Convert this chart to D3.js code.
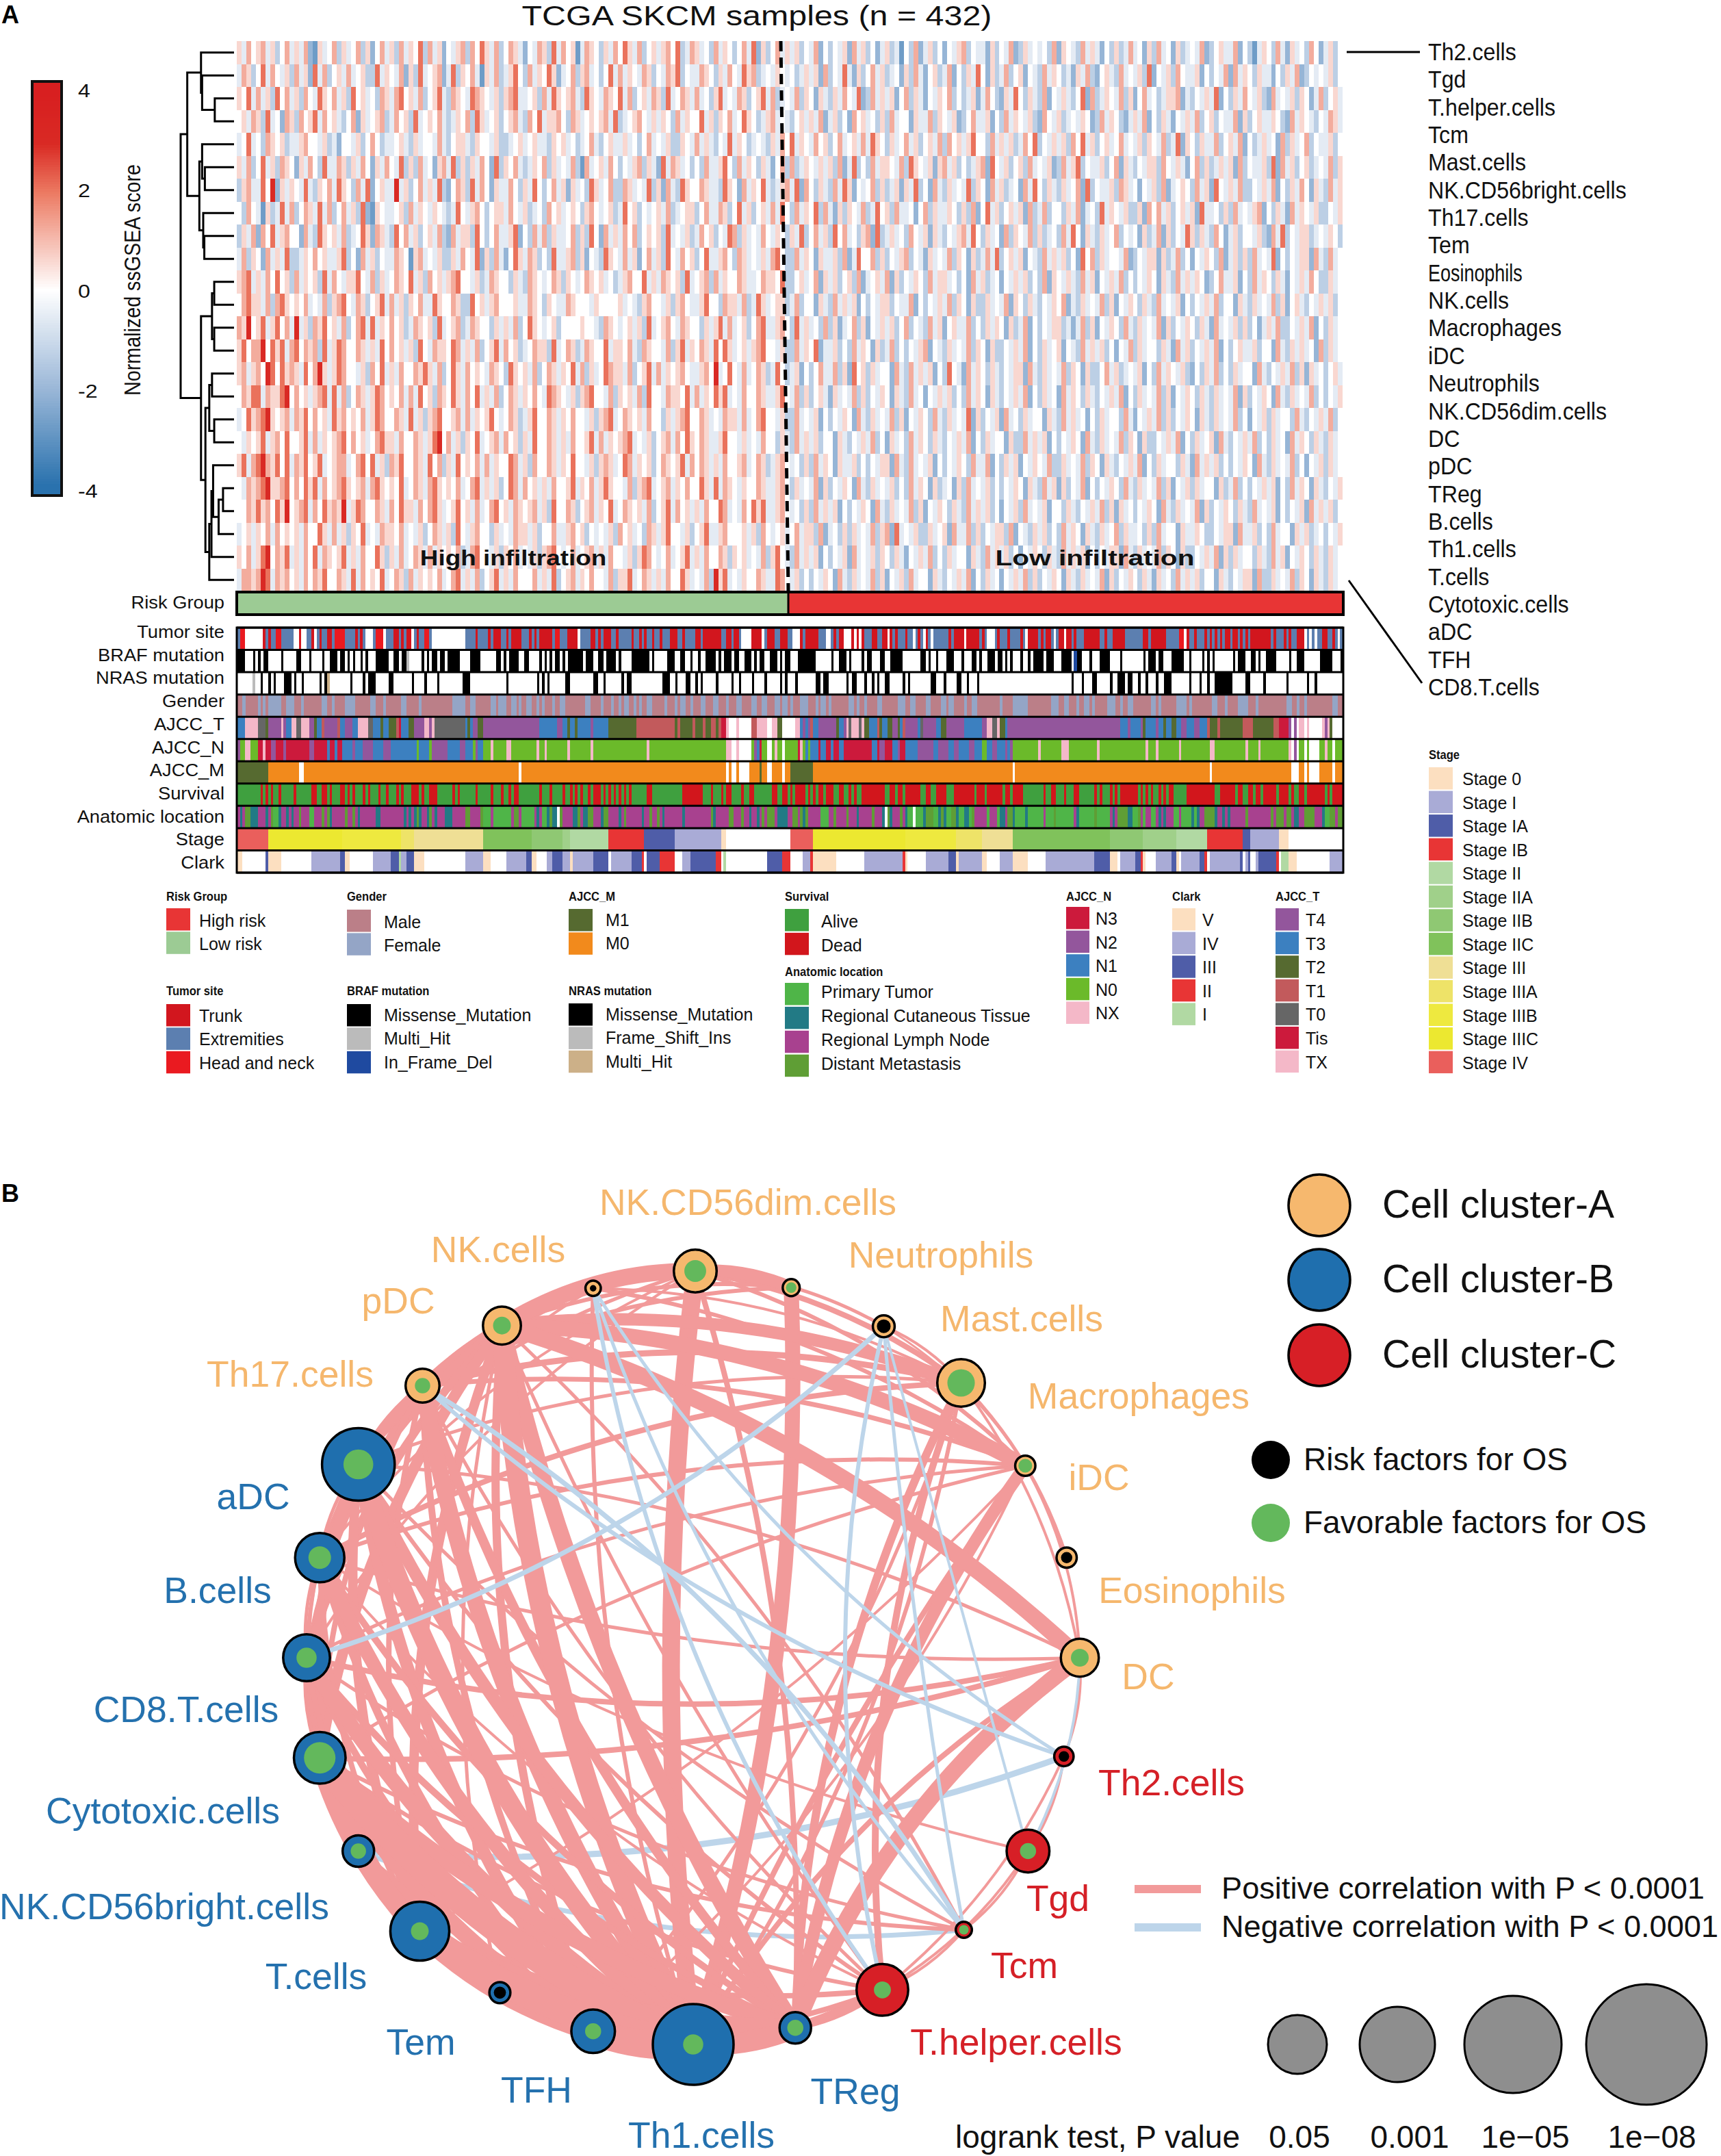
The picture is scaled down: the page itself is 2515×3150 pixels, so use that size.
<!DOCTYPE html>
<html><head><meta charset="utf-8">
<script src="https://cdn.jsdelivr.net/npm/d3@7/dist/d3.min.js"></script>
<style>html,body{margin:0;padding:0;background:#fff}svg{display:block}text{font-family:"Liberation Sans",Arial,sans-serif}</style>
</head><body><svg id="c" width="2515" height="3150" viewBox="0 0 2515 3150"></svg>
<script>
// ---------- DATA ----------
const cellRows=["Th2.cells","Tgd","T.helper.cells","Tcm","Mast.cells","NK.CD56bright.cells","Th17.cells","Tem","Eosinophils","NK.cells","Macrophages","iDC","Neutrophils","NK.CD56dim.cells","DC","pDC","TReg","B.cells","Th1.cells","T.cells","Cytotoxic.cells","aDC","TFH","CD8.T.cells"];
// heat levels 0..9, 5 = score 0; one character spans about two samples
const heatRows=[
"6475 6746 3574 6472 1645 7364 5736 2574 6374 6583 7462 5467 3758 6473 5764 2547 6384 7561 4765 3647 5864 7356 4675 8347 6453 7465 3574 8263 5746"+"4635 4725 3546 2746 3524 6341 5372 4635 2546 7354 4263 5472 3645 4537 2654 3746 4253 6347 4526 3745 2634 5472 3564 4725 3146 5374 2645 3752 4635",
"4763 5847 5463 7462 8473 5647 4563 3846 5472 6384 5672 4836 5741 6473 4685 3746 5862 4573 6745 3584 7465 4763 5476 8354 4765 3647 5486 7345 4654"+"5346 4627 3548 4263 5746 3452 6374 2563 4725 3648 5263 4735 6254 3746 5342 6473 2564 3745 4638 2546 3754 4625 3547 2746 5364 4253 6472 3545 4635",
"6584 7463 8574 6375 4865 7463 8564 5376 4785 6473 5684 3765 4876 5463 6784 4563 7486 5674 3865 4765 8473 5647 6384 5764 7453 6845 4763 5684 7345"+"4736 5264 3647 5482 3746 4625 7364 2546 5735 3462 4753 2648 5364 3725 4643 5827 3465 4736 2574 5346 6724 3546 4825 3647 5463 2745 4636 5247 3564",
"5647 6384 5276 3756 8475 6435 7264 5673 4756 3845 6574 3465 7386 4563 5674 3758 4667 5376 4565 6748 3456 7546 4653 7465 5846 3657 4586 5346 7454"+"3564 6472 4635 2756 4536 3745 5264 4736 5462 3574 4625 3746 5463 2754 6345 4652 3746 5324 6472 5364 2546 4735 6354 4726 3564 4653 2746 5435 4764",
"4584 5376 5634 4675 5463 4255 4635 7534 4564 3645 5474 3566 4365 5463 3456 4564 4365 6453 4574 3564 4645 3574 5463 3654 7464 3548 4653 4543 6475"+"8465 4756 3574 5647 4865 3645 7463 5647 3756 4685 5374 6463 4758 3546 4637 5846 3564 5745 4636 5473 4826 5364 4735 6472 5346 4527 3645 7354 4635",
"6473 5846 3765 2647 5384 4763 6475 2647 5483 6374 5267 4836 3647 5283 6574 3465 7364 5473 1745 6475 3546 7364 2847 6453 5374 4685 3746 5364 2573"+"7346 5464 6372 4835 3746 6547 3865 4626 7463 5346 7285 4635 6374 5462 3746 8354 4635 7264 3546 6375 4642 5736 3464 6273 5446 3827 4635 6345 4736",
"3674 4859 2646 5484 3657 4865 3748 2564 4946 3574 6483 2576 3847 5264 4753 6485 3574 6264 5386 4573 3764 5483 6274 3865 5764 4386 5274 6584 3467"+"4827 5364 3748 6254 5736 3462 6483 5274 3645 4836 5274 6345 2748 5364 3645 7283 5446 3764 5254 6372 4565 3746 2854 6473 3546 4725 3647 5264 3746",
"5375 4163 4847 3576 4847 3574 6382 1654 4563 7465 4654 3485 4675 3566 4754 6345 3756 4565 3675 4563 4856 3545 6473 4566 3574 4763 5846 3564 7485"+"3746 5837 4263 6547 3485 6374 4525 7364 4653 6372 5846 3564 6273 4735 5364 7245 3846 5463 3627 5746 3564 6284 4536 3745 4672 5364 2746 5463 3546",
"3647 2758 4675 5274 3865 6473 4586 2764 3857 4635 6473 2746 6385 3574 4682 5374 7364 4573 6385 2746 4757 3565 6384 5463 4756 3548 7364 5475 4653"+"6483 5746 3857 4536 7283 4645 3754 6264 3546 7485 3645 2736 5473 6345 3748 5264 3645 7354 5263 4726 3548 6364 3752 4635 5463 2748 3546 6345 4653",
"4736 5274 6483 3465 7564 4683 5274 6354 4765 1674 5463 3647 5482 6374 2586 4763 5384 4673 6254 3865 4746 2574 6385 4756 3584 4675 3764 5464 7853"+"3746 5264 4637 2485 5736 3546 7354 2645 4736 5263 4748 3564 6254 3746 4635 2857 3645 5472 3546 6263 4735 2546 5372 4636 3745 4825 3546 6274 3745",
"6784 6475 8563 7465 6384 7546 6854 7364 5765 8463 7564 6785 5463 4765 5364 3765 4576 3654 5765 6453 4675 5846 4765 6384 5673 7465 5764 4576 6583"+"3564 5726 4635 6372 4564 7263 5465 3746 6453 5274 6345 2546 4635 3726 5464 3746 2546 4735 3546 5264 3746 4652 3574 4625 3746 5364 2546 4753 3645",
"5786 6473 7865 6574 5473 6785 4763 5684 7463 6574 4865 5763 3856 4675 5564 4765 3654 4765 5546 5555 6454 3675 5463 6754 4685 5376 6473 4864 5663"+"4735 5264 3746 4625 3546 6354 4725 3546 4736 5263 3645 4726 5364 3546 5724 3645 4736 2546 5364 3745 4625 3546 4735 5264 3645 4736 2564 3546 4635",
"7695 6846 8574 9463 7685 6473 5784 8465 7563 4765 6384 5673 4765 5364 6473 5865 4563 5555 6554 3765 4564 6384 5675 4765 5364 6847 4563 5784 4675"+"3846 4537 3624 5736 2546 4635 7354 3746 2564 4735 3646 5263 4725 3546 6342 4736 2546 5374 3645 4726 3546 5364 2745 4636 3524 6473 3546 4725 3645",
"6857 7958 6847 8576 7384 6875 5764 6485 7564 6385 4766 5874 6473 5684 7563 4576 6384 5763 4765 5846 6574 3765 5473 6846 5764 8586 4564 6785 5463"+"3746 5824 4635 3746 5263 4735 3546 7254 3645 4736 5263 3546 4725 3645 6254 3746 4635 2547 3645 5364 2746 3546 4725 3564 4635 5274 3646 4527 3645",
"6746 7598 5867 6485 7964 6875 5463 7584 6475 5768 6473 5864 7565 4765 3865 6473 5764 6584 7364 5876 6473 5684 7465 6754 4675 9458 5474 5763 4853"+"4625 3574 4736 2856 3645 5274 3746 4625 3854 2746 5364 3546 6274 3645 4736 5263 3574 6345 4625 3746 5463 2536 4735 3645 5274 3546 4736 2645 3564",
"5768 8476 6895 7564 6784 8473 5764 6875 6574 7485 6376 5864 7584 6473 5764 6575 4876 5463 6785 5473 6564 7385 5476 6584 7465 8684 5475 5764 4685"+"4736 3564 2645 4736 3546 5264 3745 2546 4635 3746 5264 3546 4725 3645 2746 5364 3546 4725 3645 4736 2546 5364 3645 4726 3546 5274 3645 4735 3546",
"4586 7896 5674 7685 7564 8675 6574 6875 5764 8463 6785 5674 7465 6854 5763 4685 5764 6575 5463 6784 5765 6475 5364 6785 5764 5476 6474 5785 5463"+"3745 4625 3546 5274 3645 4736 2546 5374 3645 4826 3546 2745 3645 5264 3746 4525 3645 5374 2546 4736 3546 5264 3645 4735 2546 3645 5374 3546 4735",
"5465 6846 7585 5684 7465 6785 7564 5786 6475 5764 6895 7463 6584 5674 7563 6485 5764 6475 5684 7465 6784 5463 5674 7586 5764 4685 5464 5475 5364"+"3746 4635 5264 3546 4735 2645 3746 5364 3546 4725 3645 5263 3746 4625 3546 5274 3645 4736 5263 3546 4725 3645 6274 3546 4735 3645 2746 5364 3645",
"6847 8976 8584 7685 6845 6774 5785 8463 7685 5764 8573 6485 6574 7465 5874 6375 5764 6585 5463 6764 5874 6563 5765 6847 5764 6475 5674 5763 4675"+"4536 3746 5264 4635 3546 6274 3745 4625 3546 5374 4725 3646 2546 5473 3645 4736 5264 3546 4725 3645 5364 2746 4635 3546 5274 3645 4735 2546 3645",
"5476 7896 6785 7586 8475 6786 5674 7865 6584 5764 7865 6574 5784 6463 5874 7564 6475 5684 6574 6865 5473 6784 5674 6575 5864 8476 5465 5764 4675"+"3645 4726 3546 5274 3645 4635 3746 5263 4526 3745 4635 3546 5264 3746 2635 4725 3546 5374 3645 4736 2546 3645 5263 4735 3546 4625 3746 5264 3546",
"5576 8675 8695 6784 7586 7694 6875 5764 7586 6475 7864 5685 6474 5785 6476 5674 6385 5763 5674 6584 5765 6473 5684 7564 6475 5874 5475 8684 4675"+"4536 3746 4625 3546 5274 3645 4736 2546 5364 3746 4635 2546 3745 4625 5364 3546 4736 2645 3546 5274 3645 4726 3546 5364 3745 4625 3546 2746 4635",
"4564 6574 7565 6475 5864 7463 6584 5476 6574 5463 5764 6385 4675 5364 5476 6463 5574 4675 6354 5463 7564 5376 4685 5463 5684 4675 5564 6375 4564"+"5746 6372 4536 3645 4736 7284 5463 3645 6274 4736 3546 6372 5436 4635 3746 5264 3645 7364 4536 3745 5264 4653 3546 6274 4635 3745 5264 6345 3546",
"6574 6895 7684 6475 8476 5684 6475 5863 6474 5764 7465 6573 4785 5463 6574 5463 6785 4574 5674 6475 5463 6875 4574 5684 6475 5763 6564 5473 6854"+"3746 4625 3546 2745 4636 5364 2546 4735 3645 5264 3746 4635 2546 5364 3746 4625 3546 6274 3645 4736 5263 3546 4726 3645 5364 3746 2546 5364 3645",
"4776 7984 7675 6475 7685 5764 8475 6584 5763 7465 6574 5784 6473 5684 6475 5574 6483 5674 6575 5473 6684 5764 6475 5864 5473 9684 5465 5764 4875"+"4635 3546 5274 3645 4736 2546 3745 5264 3546 4725 3645 2546 4736 3546 5264 3645 4726 3546 5364 2645 3746 4635 5264 3546 6273 3645 4736 5264 3645"
];
const tumorTrack="E1 H3 -10 T11 E12 T13 E15 H17 E22 -24 T25 -27 E29 T30 -31 E32 T33 E35 T37 E38 H42 E46 T47 E48 T49 E50 -53 E54 H57 -58 E61 T63 E64 T65 E66 T68 -69 E70 T71 E73 H75 E76 -89 E93 T94 E98 T99 E100 T103 E105 T106 E107 T111 E114 T115 E116 T117 E118 T123 E124 H126 E129 T133 -134 E138 T140 E141 T142 E143 T146 E148 T149 E154 T155 E157 T158 E159 T160 E162 T163 E165 T166 E169 T172 E174 T175 E179 T181 E182 T189 E191 T193 E194 T196 E197 -201 T205 -206 E207 T210 E212 T215 E217 -220 T221 E222 T227 E230 -232 E233 T234 E235 T237 -240 T241 -242 T243 -244 T245 E248 T250 E252 T254 -255 T256 E257 T258 E261 T262 E264 -265 E266 T267 E268 -269 T270 E271 -272 E278 T279 E280 T284 -285 T290 E291 T292 E293 -296 E297 T298 E301 T302 E306 T307 E308 -309 T313 E314 T315 E316 T318 E319 -320 E321 T323 -324 T326 E327 T328 E331 T337 E339 T340 E342 T347 E354 T356 E357 T363 E368 H370 -371 T372 E374 T375 E378 T379 E380 T381 E382 T383 E384 T385 E386 T388 E389 T391 E392 T393 E394 T395 E396 T404 E405 T406 E409 T410 E411 T412 E414 T417 -418 E419 -420 E421 -422 E424 T426 E428 T429 E430 -431 E432";
const brafWild="3-6 7-8 9-10 12-17 18-23 25-28 29-33 34-36 39-40 42-43 44-45 46-48 49-50 51-54 59-61 63-64 67-72 73-74 75-76 78-79 81-82 87-91 95-101 103-104 105-106 110-112 114-118 119-120 121-122 123-124 126-127 128-129 135-136 139-141 143-144 148-149 150-154 161-162 163-168 171-173 175-177 178-180 181-183 187-188 189-190 193-194 196-198 201-202 203-204 206-208 211-212 213-214 216-219 226-232 233-235 238-239 240-244 245-246 248-251 253-255 260-267 269-270 271-273 274-277 280-283 284-287 289-290 291-293 296-297 299-300 301-302 303-306 307-309 310-311 315-316 319-322 326-327 330-333 334-337 341-345 346-354 355-356 359-360 362-365 370-372 373-377 378-379 380-381 382-389 390-391 394-396 398-399 400-402 406-411 412-414 417-423 428-431";
const brafOther=[["Multi_Hit",66,67],["In_Frame_Del",327,328]];
const nrasWild="0-6 7-9 10-12 13-14 15-18 21-22 23-25 26-32 33-34 36-44 45-49 50-51 54-59 61-68 69-73 74-78 79-88 91-105 106-117 118-119 120-121 122-128 130-139 141-143 144-150 151-152 154-166 169-171 172-175 177-179 180-181 182-187 188-193 194-196 197-201 202-206 207-212 213-214 215-218 219-226 228-229 231-238 239-240 242-245 246-248 249-250 251-253 255-260 261-262 263-271 273-276 277-281 283-285 286-289 290-326 327-330 331-334 336-341 342-344 347-348 350-352 353-355 356-359 360-362 365-372 373-376 377-379 380-382 389-394 396-401 402-410 411-418 419-421 422-432";
const nrasOther=[["Frame_Shift_Ins",6,7],["Multi_Hit",35,36]];
const femaleRanges="2-3 8-9 10-11 12-17 19-22 25-26 33-35 37-38 42-46 52-54 57-58 64-66 71-72 84-89 91-93 99-101 102-105 107-109 110-111 113-115 117-118 119-120 123-124 126-128 136-138 142-143 146-147 149-150 151-153 155-156 157-158 160-162 167-168 171-172 173-175 177-178 181-183 186-188 191-192 195-197 201-203 205-207 210-212 213-215 216-217 220-223 226-227 228-230 231-232 239-241 242-243 245-246 250-252 258-261 263-265 269-271 275-277 278-280 284-285 287-289 298-299 303-309 318-321 323-325 328-329 331-333 334-335 340-343 345-346 348-350 357-359 360-361 367-371 372-373 381-383 386-387 391-395 398-399 410-412 414-415 417-418 428-430";
const ajccTTrack="33 x8 011 212 417 x18 419 321 x23 025 x28 430 231 333 134 439 140 342 445 347 x51 053 356 257 359 262 163 s64 367 269 473 x75 476 x77 089 390 291 392 494 296 4118 3125 4127 3129 2130 3132 2133 3138 4139 3145 2156 1171 2172 1173 2178 1179 2182 1183 2185 1187 2188 1189 s191 x192 -195 x196 -201 1203 x207 -209 x211 2213 -217 -218 x220 3221 4222 3223 4224 1225 3227 4234 2235 3237 4238 x239 0240 x243 0244 x245 2247 3250 1251 2252 3254 2256 4258 2259 3260 1261 4266 3267 0268 4273 3275 2277 4284 3291 4293 x295 0297 x298 2300 3301 4345 3348 4349 3353 4354 2355 3359 4360 3362 2363 3365 2367 3369 4371 3374 4376 3379 1380 2383 1384 2393 1397 2405 1407 s411 4412 -413 4414 -415 x417 -418 x419 -424 x425 4426 x427 2428 -432";
const ajccNTrack="21 03 x5 08 310 x11 313 215 318 219 328 230 335 136 338 139 341 145 246 149 253 157 260 170 071 175 076 282 187 289 192 093 294 196 099 x100 0105 x107 0117 x118 0120 x121 0129 x130 0138 x139 0160 x161 0191 x193 -195 x196 -201 0202 2203 1204 3205 0207 -209 0210 x211 0213 -214 0219 3220 x221 0222 1223 0224 1227 3228 1230 3232 1233 3235 1237 3248 1250 3251 2253 3256 1258 2259 3261 1266 2272 1274 2278 1280 2282 1286 2288 1291 0293 1295 2297 1300 2301 1302 2303 0313 x314 0322 x325 0336 x337 0355 x356 0359 x360 0368 x369 0380 x382 0394 x395 0399 x400 0411 x412 -413 2414 -415 0417 -418 0419 -423 0425 x426 0428 -429 0432";
const ajccMTrack="112 024 -26 0110 -111 0191 -192 0193 -195 0196 -200 0204 1205 0207 -209 0213 -214 0216 1225 0303 -304 0380 -381 0412 -415 0417 -418 0419 -423 0428 -429 0432";
const survivalTrack="A9 D10 A11 D12 A13 D14 A16 D17 A22 D23 A29 D31 A33 D35 A36 D37 A40 D42 A43 D44 A45 D46 A49 D50 A51 D52 A55 D56 A58 D59 A62 D63 A64 D65 A68 D71 A72 D73 A75 D78 A84 D85 A86 D87 A93 D94 A99 D100 A103 D104 A106 D107 A108 D110 A118 D119 A122 D123 A127 D128 A130 D131 A132 D133 A134 D135 A137 D138 A139 D142 A143 D144 A145 D146 A147 D148 A149 D150 A151 D152 A153 D154 A160 D162 A174 D182 A185 D186 A189 D190 A191 D193 A197 D198 A200 D202 A209 D211 A213 D215 A216 D217 A218 D222 A223 D224 A225 D226 A227 D229 A230 D233 A235 D237 A239 D240 A241 D242 A244 D253 A255 D257 A258 D260 A261 D267 A269 D271 A273 D277 A280 D288 A289 D292 A293 D299 A300 D302 A303 D307 A315 D316 A318 D320 A323 D324 A327 D329 A335 D336 A337 D338 A341 D342 A343 D344 A345 D352 A353 D354 A355 D356 A357 D358 A360 D361 A362 D363 A364 D366 A371 D382 A384 D390 A391 D393 A395 D397 A398 D400 A401 D406 A407 D411 A412 D413 A415 D417 A418 D425 A426 D427 A428 D432";
const locationTrack="L1 R2 L3 D5 R8 L11 R12 L13 D14 P16 R17 L19 R20 L21 R22 L24 D25 L28 P30 L33 D34 L35 D36 R37 L42 D43 L45 D46 L47 R48 L54 R56 L65 R66 L67 R68 L69 R70 D71 R72 L74 R75 D76 L77 R78 L81 R84 L89 D91 L95 D96 P99 L100 P107 L108 D110 L111 P116 L117 R118 L119 P121 R122 D123 R125 -126 D127 L131 R133 D134 L135 R137 D139 L142 R143 D145 L149 R150 L151 D152 L158 R159 L161 D162 L164 D165 L166 R167 L174 R175 L185 D186 R187 L192 D194 L197 D198 L200 R201 L203 R204 L205 D206 L207 D210 L211 R215 L217 D219 L220 D221 R222 D223 L228 P231 L233 D234 L238 D239 L242 R243 L248 D249 L252 R253 -254 D255 R256 L259 D260 L261 R262 P264 -265 P268 R269 D272 P274 R275 D276 R277 P279 D281 R282 P284 R286 P287 D288 L293 P294 L297 P298 R300 L301 D303 R304 P308 R309 P315 L316 P319 D320 P327 L328 R329 P335 D336 P341 L342 R343 L344 D348 R350 P352 D353 L354 P355 L357 P359 L360 R361 L362 R363 L366 P368 L369 P373 R374 P375 R376 L378 D382 R383 L385 R386 L387 R388 L394 D395 L404 D405 L406 D409 L410 D412 L413 R415 L417 D421 L424 R425 P427 D429 L430 D432";
const stageTrack="r12 n41 m64 l69 k96 j115 i127 h130 g145 f159 e171 d189 c191 -216 r225 n261 m281 l291 k303 j341 i354 h367 g379 f393 e396 d407 c411 -432";
const clarkTrack="V2 -11 312 V17 -29 440 342 V44 -53 460 363 164 466 369 V73 -89 496 V99 -105 4113 3115 V117 -121 4123 3127 4130 V131 4139 3145 -146 4154 3158 2159 -160 3165 2171 -174 4177 3187 2189 -190 1191 -207 3213 2216 -221 4224 2225 V234 -245 4260 2261 V262 -269 4278 3281 V282 4291 V293 -298 4303 V309 -316 4335 3341 V344 -345 4351 3353 2354 V355 -359 4365 3367 V368 -369 4376 3378 2379 -380 4392 3393 -394 4395 3396 -398 4399 3406 2407 -408 1411 V414 -427 4432";
const riskTrack="L215 H432";
const cellNodes=["NK.CD56dim.cells","Neutrophils","Mast.cells","Macrophages","iDC","Eosinophils","DC","Th2.cells","Tgd","Tcm","T.helper.cells","TReg","Th1.cells","TFH","Tem","T.cells","NK.CD56bright.cells","Cytotoxic.cells","CD8.T.cells","B.cells","aDC","Th17.cells","pDC","NK.cells"];
const nodeCluster="AAAAAAACCCCBBBBBBBBBBAAA";
const nodeOuter=[53,21,27,59,25,25,47,24,53,20,64,39,100,54,26,73,39,64,58,61,90,42,47,19];
const nodeInner=[27,13,17,34,17,14,22,13,20,12,21,20,25,20,15,22,19,39,25,28,37,19,22,8];
const nodeRisk=[0,0,1,0,0,1,0,1,0,0,0,0,0,0,1,0,0,0,0,0,0,0,0,1];
// [node, node, edge weight, optional bow: negative bends towards the circle's centre]
const posEdges=[[21,22,5],[22,23,6],[23,1,4],[0,2,5],[23,3,4],[0,3,8],[0,4,6],[21,1,6],[22,1,6],[21,3,9],[21,4,7],[23,4,6],[2,3,4],[2,4,3],[5,3,5],[3,6,4],[4,6,4],[6,7,4],[7,8,4],[8,9,4],[8,10,4],[9,10,4],[7,10,4],[6,19,5,-1],[6,20,5],[6,18,8,-2],[6,17,8],[4,18,5],[4,19,6],[3,20,5],[3,19,8],[4,17,5],[4,15,4],[4,13,4],[3,13,5],[3,12,6],[22,10,5],[21,10,5],[20,10,6],[19,10,4],[17,10,6],[15,10,8],[13,10,8],[18,9,5],[17,9,6],[20,9,5],[19,8,4],[22,9,5],[16,14,5],[22,14,5],[23,20,4],[23,19,4],[0,20,5],[0,19,4],[0,18,4],[23,12,6],[0,11,8],[4,12,8,-.5],[6,12,8,-1],[3,10,10,-1],[3,11,12,-1],[10,11,8],[10,12,12],[4,11,18,-1],[6,11,24,-1.2],[1,12,22],[0,12,26],[22,3,18],[22,4,22],[22,6,24],[22,0,24,1.2],[0,1,18],[20,19,5],[20,18,5],[19,18,5],[21,20,8],[21,19,7],[21,18,6],[22,20,14],[22,19,14],[22,18,12],[22,17,16],[21,17,8],[22,15,14],[21,15,8],[22,13,12],[21,13,10],[22,11,24],[21,11,14],[22,12,30],[21,12,24],[20,17,16],[19,17,6],[18,17,6],[17,16,6],[20,15,14],[19,15,8],[18,15,8],[16,15,6],[14,15,6],[20,13,18],[19,13,12],[18,13,10],[16,13,8],[20,11,18],[19,11,10],[18,11,10],[20,12,28],[19,12,20],[18,12,22],[16,12,14],[14,12,20],[17,13,24],[17,11,24],[15,11,24],[13,11,20],[17,15,30],[15,13,30],[17,12,40],[15,12,40],[13,12,40],[11,12,30]];
const negEdgesUnder=[[7,16,9],[16,9,7]];
const negEdgesOver=[[21,9,7,-2],[21,7,6,-1],[23,10,6,-1.4],[23,9,5,-1],[23,7,5,-1],[2,10,6,-1],[2,18,7,-1],[2,9,5,-.2],[2,8,4,0],[6,8,4]];
const colorTickValues=[4,2,0,-2,-4];
const pValueLabels=["0.05","0.001","1e\u221205","1e\u221208"];
const pValueLogs=[1.3,3,5,8];

// palette, legends
const pal={Risk:{H:"#e83535",L:"#9ccb94"},Tumor:{T:"#d2161e",E:"#5c7fb0",H:"#ea1a20"},
 Mut:{Missense_Mutation:"#000",Multi_Hit:"#bbb",In_Frame_Del:"#1f4aa0",Frame_Shift_Ins:"#bbb",NrasMulti:"#ccb088"},
 Gender:{M:"#bb7f88",F:"#94a5c6"},AjccT:{4:"#93569c",3:"#3c80c0",2:"#566a30",1:"#c25a5c",0:"#666666",s:"#cc1a3c",x:"#f4b8c8"},
 AjccN:{3:"#cc1a3c",2:"#93569c",1:"#3c80c0",0:"#6bba2a",x:"#f4b8c8"},AjccM:{1:"#566a30",0:"#f28a1c"},
 Surv:{A:"#3fa03f",D:"#d2161c"},Loc:{P:"#4fb548",R:"#227a85",L:"#a8418f",D:"#5f9e35"},
 Stage:{c:"#fcdfc0",d:"#a9abd6",e:"#4f5da8",f:"#e83535",g:"#b1d9a3",h:"#a0d08a",i:"#8fc873",j:"#80c25b",k:"#efdf95",l:"#eee368",m:"#eee93f",n:"#ece830",r:"#ea5f5c"},
 Clark:{V:"#fcdfc0",4:"#a9abd6",3:"#4f5da8",2:"#e83535",1:"#b1d9a3"}};
const clusterColor={A:"#f6b86e",B:"#1f6fae",C:"#d71f26"};
const labelColor={A:"#f5b76d",B:"#2471ae",C:"#d52027"};

// ---------- HELPERS ----------
const svg=d3.select("#c");
svg.append("rect").attr("width",2515).attr("height",3150).attr("fill","#fff");
function txt(x,y,s,o={}){
  const t=svg.append("text").text(s).attr("font-size",o.size||26).attr("fill",o.fill||"#111")
   .attr("text-anchor",o.anchor||"start").attr("font-weight",o.bold?"bold":"normal");
  const sx=o.sx||1;
  let tf=`translate(${x},${y})`; if(o.rot)tf+=` rotate(${o.rot})`; if(sx!==1)tf+=` scale(${sx},1)`;
  t.attr("transform",tf);
  return t;
}
const parseRuns=s=>{let p=0;return s.trim().split(/\s+/).map(k=>{const e=+k.slice(1),r=[k[0],p,e];p=e;return r;});};
const parseRanges=s=>s.trim().split(/\s+/).map(k=>k.split("-").map(Number));

// ---------- PANEL A ----------
txt(2,34,"A",{size:36,bold:true,fill:"#000"});
txt(1106,37,"TCGA SKCM samples (n = 432)",{size:40,anchor:"middle",sx:1.21});

const hx0=346,hx1=1962,hy0=60,hy1=864;
const sampleX=d3.scaleLinear([0,432],[347,1962]);
const rowY=d3.scaleBand(d3.range(cellRows.length),[hy0,hy1]);
const heatColor=d3.scaleLinear([-4,-2,0,2,3,4],["#2a72ae","#9cb8d8","#ffffff","#ec7a62","#d92a24","#d81f20"]);
const digitValue=d3.scaleLinear([0,1,2,3,4,5,6,7,8,9],[-3.6,-2.8,-2.1,-1.35,-.55,0,.6,1.25,2.1,3.1]);
heatRows.forEach((row,r)=>{
  const cells=row.replace(/\s/g,"").split("");
  const cx=d3.scaleLinear([0,cells.length],[hx0,hx1]);
  svg.append("g").selectAll("rect").data(cells).join("rect")
   .attr("x",(d,i)=>cx(i)).attr("y",rowY(r)).attr("width",(d,i)=>cx(i+1)-cx(i)+.4).attr("height",rowY.bandwidth()+.3)
   .attr("fill",d=>heatColor(digitValue(+d))).attr("shape-rendering","crispEdges");
});
// column split
svg.append("line").attr("x1",1141).attr("y1",60).attr("x2",1152).attr("y2",864).attr("stroke","#000").attr("stroke-width",5).attr("stroke-dasharray","15 9");
txt(750,826,"High infiltration",{size:31,bold:true,anchor:"middle",sx:1.19});
txt(1600,826,"Low infiltration",{size:31,bold:true,anchor:"middle",sx:1.31});

// row labels and connectors
const labelY=d3.scaleLinear([0,23],[88,1016]);
const rowLabelSx={"Eosinophils":.77};
cellRows.forEach((n,i)=>txt(2087,labelY(i),n,{size:35,sx:rowLabelSx[n]||.92}));
const conn=[[1968,76,2075,76],[1971,848,2078,998]];
conn.forEach(c=>svg.append("line").attr("x1",c[0]).attr("y1",c[1]).attr("x2",c[2]).attr("y2",c[3]).attr("stroke","#000").attr("stroke-width",3));

// dendrogram
const dendroTree=[97,
 [85,[60,0,[58,1,[35,2,3]]],[63,[58,4,[53,5,6]],[56,7,[54,8,9]]]],
 [60,[40,[36,10,11],[36,12,13]],[52,[45,[40,14,15],[36,16,17]],[45,[41,[38,18,[28,[20,19,20],21]],22],23]]]];
const dendX=d3.scaleLinear([0,97],[342,264]);
const dendG=svg.append("g").attr("fill","none").attr("stroke","#000").attr("stroke-width",3);
function drawDend(n){
  if(typeof n==="number")return{y:rowY(n)+rowY.bandwidth()/2,h:0};
  const a=drawDend(n[1]),b=drawDend(n[2]),x=dendX(n[0]);
  dendG.append("path").attr("d",`M${dendX(a.h)},${a.y}H${x}V${b.y}H${dendX(b.h)}`);
  return{y:(a.y+b.y)/2,h:n[0]};
}
drawDend(dendroTree);

// colour bar
const cbY=d3.scaleLinear([-4.2,4.3],[724,119]);
svg.append("g").selectAll("rect").data(d3.range(-4.2,4.3,.05)).join("rect")
 .attr("x",47).attr("width",43).attr("y",d=>cbY(d+.05)).attr("height",d=>cbY(d)-cbY(d+.05)+.6).attr("fill",d=>heatColor(Math.max(-4,Math.min(4,d)))).attr("shape-rendering","crispEdges");
svg.append("rect").attr("x",47).attr("y",119).attr("width",43).attr("height",605).attr("fill","none").attr("stroke","#111").attr("stroke-width",4);
const cbTick=d3.scaleLinear([-4,4],[717,132]);
colorTickValues.forEach(v=>txt(114,cbTick(v)+10,String(v),{size:28,sx:1.15}));
txt(205,409,"Normalized ssGSEA score",{size:33,rot:-90,anchor:"middle",sx:.87});

// annotation tracks
const tracks=[
 {name:"Tumor site",segs:parseRuns(tumorTrack),col:pal.Tumor},
 {name:"BRAF mutation",base:"#000",segs:parseRanges(brafWild).map(r=>["w",r[0],r[1]]).concat(brafOther.map(o=>["o"+o[0],o[1],o[2]])),col:{}},
 {name:"NRAS mutation",base:"#000",segs:parseRanges(nrasWild).map(r=>["w",r[0],r[1]]).concat(nrasOther.map(o=>["o"+o[0],o[1],o[2]])),col:{},nras:true},
 {name:"Gender",base:pal.Gender.M,segs:parseRanges(femaleRanges).map(r=>["F",r[0],r[1]]),col:pal.Gender},
 {name:"AJCC_T",segs:parseRuns(ajccTTrack),col:pal.AjccT},
 {name:"AJCC_N",segs:parseRuns(ajccNTrack),col:pal.AjccN},
 {name:"AJCC_M",segs:parseRuns(ajccMTrack),col:pal.AjccM},
 {name:"Survival",segs:parseRuns(survivalTrack),col:pal.Surv},
 {name:"Anatomic location",segs:parseRuns(locationTrack),col:pal.Loc},
 {name:"Stage",segs:parseRuns(stageTrack),col:pal.Stage},
 {name:"Clark",segs:parseRuns(clarkTrack),col:pal.Clark}];
const trackY=d3.scaleLinear([0,tracks.length],[917,1275]);
const trackLabelY=d3.scaleLinear([0,tracks.length-1],[932,1269]);
function segColor(t,c){
  if(c==="w"||c==="-")return"#fff";
  if(c[0]==="o"&&c.length>1){const k=c.slice(1);return (t.nras&&k==="Multi_Hit")?pal.Mut.NrasMulti:pal.Mut[k];}
  return t.col[c]||"#fff";
}
tracks.forEach((t,i)=>{
  const y=trackY(i),h=trackY(i+1)-y;
  if(t.base)svg.append("rect").attr("x",sampleX(0)).attr("y",y).attr("width",sampleX(432)-sampleX(0)).attr("height",h).attr("fill",t.base);
  svg.append("g").selectAll("rect").data(t.segs).join("rect")
   .attr("x",d=>sampleX(d[1])).attr("y",y).attr("width",d=>Math.max(0,sampleX(d[2])-sampleX(d[1])+.3)).attr("height",h)
   .attr("fill",d=>segColor(t,d[0])).attr("shape-rendering","crispEdges");
  txt(328,trackLabelY(i),t.name,{size:26,anchor:"end",sx:1.05});
});
d3.range(tracks.length+1).forEach(i=>svg.append("line").attr("x1",346).attr("x2",1963).attr("y1",trackY(i)).attr("y2",trackY(i)).attr("stroke","#000").attr("stroke-width",3));
svg.append("rect").attr("x",346).attr("y",917).attr("width",1617).attr("height",358).attr("fill","none").attr("stroke","#000").attr("stroke-width",3);
// risk group bar
svg.append("g").selectAll("rect").data(parseRuns(riskTrack)).join("rect").attr("x",d=>sampleX(d[1])).attr("y",866).attr("width",d=>sampleX(d[2])-sampleX(d[1])).attr("height",31).attr("fill",d=>pal.Risk[d[0]]);
svg.append("rect").attr("x",346).attr("y",865).attr("width",1617).attr("height",33).attr("fill","none").attr("stroke","#000").attr("stroke-width",4);
svg.append("line").attr("x1",1152).attr("x2",1152).attr("y1",865).attr("y2",898).attr("stroke","#000").attr("stroke-width",3);
txt(328,889,"Risk Group",{size:26,anchor:"end",sx:1.05});

// legends
const P=pal;
const legends=[
 {t:"Risk Group",x:243,ty:1316,lx:291,top:1327,p:34.3,dy:2,it:[["High risk",P.Risk.H],["Low risk",P.Risk.L]]},
 {t:"Gender",x:507,ty:1316,lx:561,top:1329,p:34.3,dy:2,it:[["Male",P.Gender.M],["Female",P.Gender.F]]},
 {t:"AJCC_M",x:831,ty:1316,lx:885,top:1328,p:34.3,dy:0,it:[["M1",P.AjccM[1]],["M0",P.AjccM[0]]]},
 {t:"Survival",x:1147,ty:1316,lx:1200,top:1328,p:34.8,dy:2,it:[["Alive",P.Surv.A],["Dead",P.Surv.D]]},
 {t:"Anatomic location",x:1147,ty:1426,lx:1200,top:1436,p:34.9,dy:-3,it:[["Primary Tumor",P.Loc.P],["Regional Cutaneous Tissue",P.Loc.R],["Regional Lymph Node",P.Loc.L],["Distant Metastasis",P.Loc.D]]},
 {t:"Tumor site",x:243,ty:1454,lx:291,top:1467,p:34.4,dy:1,it:[["Trunk",P.Tumor.T],["Extremities",P.Tumor.E],["Head and neck",P.Tumor.H]]},
 {t:"BRAF mutation",x:507,ty:1454,lx:561,top:1467,p:34.4,dy:0,it:[["Missense_Mutation",P.Mut.Missense_Mutation],["Multi_Hit",P.Mut.Multi_Hit],["In_Frame_Del",P.Mut.In_Frame_Del]]},
 {t:"NRAS mutation",x:831,ty:1454,lx:885,top:1466,p:34.4,dy:0,it:[["Missense_Mutation",P.Mut.Missense_Mutation],["Frame_Shift_Ins",P.Mut.Frame_Shift_Ins],["Multi_Hit",P.Mut.NrasMulti]]},
 {t:"AJCC_N",x:1558,ty:1316,lx:1601,top:1325,p:34.6,dy:1,it:[["N3",P.AjccN[3]],["N2",P.AjccN[2]],["N1",P.AjccN[1]],["N0",P.AjccN[0]],["NX",P.AjccN.x]]},
 {t:"Clark",x:1713,ty:1316,lx:1757,top:1327,p:34.6,dy:1,it:[["V",P.Clark.V],["IV",P.Clark[4]],["III",P.Clark[3]],["II",P.Clark[2]],["I",P.Clark[1]]]},
 {t:"AJCC_T",x:1864,ty:1316,lx:1908,top:1327,p:34.6,dy:1,it:[["T4",P.AjccT[4]],["T3",P.AjccT[3]],["T2",P.AjccT[2]],["T1",P.AjccT[1]],["T0",P.AjccT[0]],["Tis",P.AjccT.s],["TX",P.AjccT.x]]},
 {t:"Stage",x:2088,ty:1109,lx:2137,top:1121,p:34.55,dy:1,it:[["Stage 0",P.Stage.c],["Stage I",P.Stage.d],["Stage IA",P.Stage.e],["Stage IB",P.Stage.f],["Stage II",P.Stage.g],["Stage IIA",P.Stage.h],["Stage IIB",P.Stage.i],["Stage IIC",P.Stage.j],["Stage III",P.Stage.k],["Stage IIIA",P.Stage.l],["Stage IIIB",P.Stage.m],["Stage IIIC",P.Stage.n],["Stage IV",P.Stage.r]]}
];
legends.forEach(l=>{
  txt(l.x,l.ty,l.t,{size:18,bold:true,sx:.92});
  l.it.forEach((it,i)=>{
    svg.append("rect").attr("x",l.x).attr("y",l.top+i*l.p).attr("width",l.lx-l.x>46?35:34).attr("height",32.5).attr("fill",it[1]);
    txt(l.lx,l.top+i*l.p+25+l.dy,it[0],{size:25});
  });
});

// ---------- PANEL B ----------
txt(2,1756,"B",{size:36,bold:true,fill:"#000"});
const cx=1013,cy=2422,R=565;
const ang=d3.scaleLinear([0,cellNodes.length],[0,2*Math.PI]);
// small layout corrections to the circular placement, by node
const nudge={0:[3,0],1:[-3,5],2:[-4,5],3:[-8,-2],4:[-4,2],7:[-4,-2],9:[-4,-2],10:[-6,-4],11:[3,-5],21:[4,2],22:[3,4],23:[0,6]};
const nx=i=>cx+R*Math.sin(ang(i))+(nudge[i]?nudge[i][0]:0),ny=i=>cy-R*Math.cos(ang(i))+(nudge[i]?nudge[i][1]:0);
function edgePath(a,b,bow){
  const d=Math.abs(a-b),steps=Math.min(d,24-d),x0=nx(a),y0=ny(a),x1=nx(b),y1=ny(b);
  const chord=Math.hypot(x1-x0,y1-y0),mx=(x0+x1)/2,my=(y0+y1)/2;
  let vx=mx-cx,vy=my-cy,l=Math.hypot(vx,vy);
  if(l<12){vx=-(y1-y0);vy=x1-x0;l=Math.hypot(vx,vy);}
  const k=.12*chord*(1-.5*Math.pow(steps/12,6))*(bow===undefined?1:bow);
  const p=d3.path();p.moveTo(x0,y0);p.quadraticCurveTo(mx+vx/l*k,my+vy/l*k,x1,y1);return p.toString();
}
function drawEdges(list,color){
  svg.append("g").attr("fill","none").attr("stroke",color).selectAll("path").data(list).join("path")
   .attr("d",d=>edgePath(d[0],d[1],d[3])).attr("stroke-width",d=>d[2]);
}
drawEdges(negEdgesUnder,"#bdd5ea");
drawEdges(posEdges,"#f29a9a");
drawEdges(negEdgesOver,"#bdd5ea");
const rScale=d3.scaleLinear([0,100],[0,59]);
const nodeG=svg.append("g").selectAll("g").data(cellNodes).join("g").attr("transform",(d,i)=>`translate(${nx(i)},${ny(i)})`);
nodeG.append("circle").attr("r",(d,i)=>rScale(nodeOuter[i])).attr("fill",(d,i)=>clusterColor[nodeCluster[i]]).attr("stroke","#000").attr("stroke-width",3.5);
nodeG.append("circle").attr("r",(d,i)=>rScale(nodeInner[i])).attr("fill",(d,i)=>nodeRisk[i]?"#000":"#63b85c");
const labelAt=[[1093,1775],[1375,1852],[1493,1945],[1664,2058],[1606,2177],[1742,2342],[1678,2468],[1712,2623],[1546,2792],[1497,2890],[1485,3002],[1250,3074],[1025,3138],[784,3072],[615,3002],[462,2906],[240,2804],[238,2664],[272,2516],[318,2342],[370,2205],[424,2026],[582,1919],[728,1844]];
cellNodes.forEach((n,i)=>txt(labelAt[i][0],labelAt[i][1],n,{size:53,anchor:"middle",fill:labelColor[nodeCluster[i]],sx:1.01}));

// panel B legends
const clusterLegend=[["Cell cluster-A","A",1761],["Cell cluster-B","B",1870],["Cell cluster-C","C",1980]];
clusterLegend.forEach(c=>{
  svg.append("circle").attr("cx",1928).attr("cy",c[2]).attr("r",45).attr("fill",clusterColor[c[1]]).attr("stroke","#000").attr("stroke-width",3.5);
  txt(2020,c[2]+18,c[0],{size:57,fill:"#111"});
});
[["Risk factors for OS","#000",2133],["Favorable factors for OS","#63b85c",2225]].forEach(c=>{
  svg.append("circle").attr("cx",1857).attr("cy",c[2]).attr("r",28).attr("fill",c[1]);
  txt(1905,c[2]+15,c[0],{size:46,fill:"#111"});
});
[["Positive correlation with P < 0.0001","#f29a9a",2760],["Negative correlation with P < 0.0001","#bdd5ea",2816]].forEach(c=>{
  svg.append("line").attr("x1",1658).attr("x2",1755).attr("y1",c[2]).attr("y2",c[2]).attr("stroke",c[1]).attr("stroke-width",12);
  txt(1785,c[2]+14,c[0],{size:45,fill:"#111",sx:1.004});
});
const pScale=d3.scaleLinear(pValueLogs,[43,55,71,88]);
const pCx=[1896,2042,2211,2406],pLab=[1899,2060,2229,2414];
pValueLogs.forEach((v,i)=>{
  svg.append("circle").attr("cx",pCx[i]).attr("cy",2987).attr("r",pScale(v)).attr("fill","#8e8e8e").attr("stroke","#000").attr("stroke-width",3);
  txt(pLab[i],3138,pValueLabels[i],{size:46,anchor:"middle",fill:"#111"});
});
txt(1604,3138,"logrank test, P value",{size:46,anchor:"middle",fill:"#111"});
</script></body></html>
